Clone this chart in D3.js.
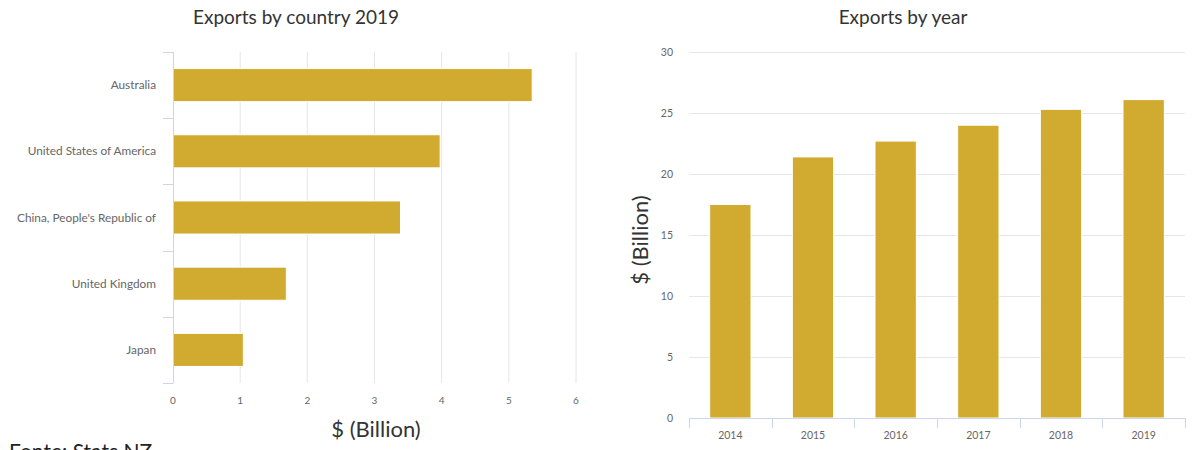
<!DOCTYPE html>
<html>
<head>
<meta charset="utf-8">
<script src="https://cdn.jsdelivr.net/npm/d3@7"></script>
<style>
  body { margin: 0; background: #fff; }
  svg { display: block; font-family: "Lato", "Open Sans", sans-serif; }
</style>
</head>
<body>
<svg id="chart" width="1199" height="450"></svg>
<script>
// Data
const countries = ["Australia", "United States of America", "China, People's Republic of", "United Kingdom", "Japan"];
const countryValues = [5.34, 3.97, 3.38, 1.68, 1.04];
const countryTicks = [0, 1, 2, 3, 4, 5, 6];

const years = ["2014", "2015", "2016", "2017", "2018", "2019"];
const yearValues = [17.5, 21.4, 22.7, 24.0, 25.3, 26.1];
const yearTicks = [0, 5, 10, 15, 20, 25, 30];

const barColor = "#d1ab30";
const gridColor = "#e6e6e6";
const axisColor = "#ccd6eb";
const labelColor = "#666";

const svg = d3.select("#chart");

// ---------- Left: Exports by country 2019 ----------
const left = { x0: 173, x1: 576, y0: 52, y1: 383 };

const xL = d3.scaleLinear().domain([0, 6]).range([left.x0, left.x1]);
const yL = d3.scaleBand().domain(countries).range([left.y0, left.y1]).paddingInner(0.5).paddingOuter(0.25);
const yLEdge = d3.scaleBand().domain(countries).range([left.y0, left.y1]);

svg.append("text")
  .attr("x", 296).attr("y", 24)
  .attr("text-anchor", "middle")
  .attr("font-size", 19).attr("fill", "#333")
  .text("Exports by country 2019");

// vertical gridlines
svg.append("g").selectAll("line")
  .data(countryTicks.filter(d => d > 0))
  .join("line")
  .attr("x1", d => xL(d)).attr("x2", d => xL(d))
  .attr("y1", left.y0).attr("y2", left.y1)
  .attr("stroke", gridColor).attr("stroke-width", 1);

// bars
svg.append("g").selectAll("rect")
  .data(countries)
  .join("rect")
  .attr("x", xL(0) + 0.5)
  .attr("y", (d) => yL(d))
  .attr("width", (d, i) => xL(countryValues[i]) - xL(0))
  .attr("height", yL.bandwidth())
  .attr("fill", barColor)
  .attr("stroke", "#fff").attr("stroke-width", 1);

// category axis line + ticks
svg.append("line")
  .attr("x1", left.x0 + 0.5).attr("x2", left.x0 + 0.5)
  .attr("y1", left.y0).attr("y2", left.y1)
  .attr("stroke", axisColor);
const edges = countries.map(d => yLEdge(d)).concat([left.y1]);
svg.append("g").selectAll("line")
  .data(edges)
  .join("line")
  .attr("x1", left.x0 - 10).attr("x2", left.x0 + 0.5)
  .attr("y1", d => Math.round(d) + 0.5).attr("y2", d => Math.round(d) + 0.5)
  .attr("stroke", axisColor);

svg.append("g").selectAll("text")
  .data(countries)
  .join("text")
  .attr("x", left.x0 - 17)
  .attr("y", d => yLEdge(d) + yLEdge.bandwidth() / 2)
  .attr("dy", "0.35em")
  .attr("text-anchor", "end")
  .attr("font-size", 11.8).attr("fill", labelColor)
  .text(d => d);

// value tick labels
svg.append("g").selectAll("text")
  .data(countryTicks)
  .join("text")
  .attr("x", d => xL(d)).attr("y", 404)
  .attr("text-anchor", "middle")
  .attr("font-size", 10).attr("fill", labelColor)
  .text(d => d);

svg.append("text")
  .attr("x", 376).attr("y", 437)
  .attr("text-anchor", "middle")
  .attr("font-size", 22).attr("fill", "#333")
  .text("$ (Billion)");

svg.append("text")
  .attr("x", 9).attr("y", 459)
  .attr("font-size", 21).attr("fill", "#222")
  .text("Fonte: Stats NZ");

// ---------- Right: Exports by year ----------
const right = { x0: 689, x1: 1185, y0: 52, y1: 418 };

const xR = d3.scaleBand().domain(years).range([right.x0, right.x1]).padding(0.5).paddingOuter(0.25);
const xREdge = d3.scaleBand().domain(years).range([right.x0, right.x1]);
const yR = d3.scaleLinear().domain([0, 30]).range([right.y1, right.y0]);

svg.append("text")
  .attr("x", 903).attr("y", 24)
  .attr("text-anchor", "middle")
  .attr("font-size", 19).attr("fill", "#333")
  .text("Exports by year");

svg.append("g").selectAll("line")
  .data(yearTicks.filter(d => d > 0))
  .join("line")
  .attr("x1", right.x0).attr("x2", right.x1)
  .attr("y1", d => Math.round(yR(d)) + 0.5).attr("y2", d => Math.round(yR(d)) + 0.5)
  .attr("stroke", gridColor);

svg.append("g").selectAll("text")
  .data(yearTicks)
  .join("text")
  .attr("x", 673).attr("y", d => yR(d))
  .attr("dy", "0.35em")
  .attr("text-anchor", "end")
  .attr("font-size", 10.5).attr("fill", labelColor)
  .text(d => d);

svg.append("g").selectAll("rect")
  .data(years)
  .join("rect")
  .attr("x", d => xR(d))
  .attr("y", (d, i) => yR(yearValues[i]))
  .attr("width", xR.bandwidth())
  .attr("height", (d, i) => yR(0) - yR(yearValues[i]))
  .attr("fill", barColor)
  .attr("stroke", "#fff").attr("stroke-width", 1);

svg.append("line")
  .attr("x1", right.x0).attr("x2", right.x1)
  .attr("y1", right.y1 + 0.5).attr("y2", right.y1 + 0.5)
  .attr("stroke", axisColor);
const yEdges = years.map(d => xREdge(d)).concat([right.x1]);
svg.append("g").selectAll("line")
  .data(yEdges)
  .join("line")
  .attr("x1", d => Math.round(d) + 0.5).attr("x2", d => Math.round(d) + 0.5)
  .attr("y1", right.y1).attr("y2", right.y1 + 10)
  .attr("stroke", axisColor);

svg.append("g").selectAll("text")
  .data(years)
  .join("text")
  .attr("x", d => xREdge(d) + xREdge.bandwidth() / 2)
  .attr("y", 439)
  .attr("text-anchor", "middle")
  .attr("font-size", 10.5).attr("fill", labelColor)
  .text(d => d);

svg.append("text")
  .attr("transform", "translate(648,240) rotate(-90)")
  .attr("text-anchor", "middle")
  .attr("font-size", 22).attr("fill", "#333")
  .text("$ (Billion)");
</script>
</body>
</html>
